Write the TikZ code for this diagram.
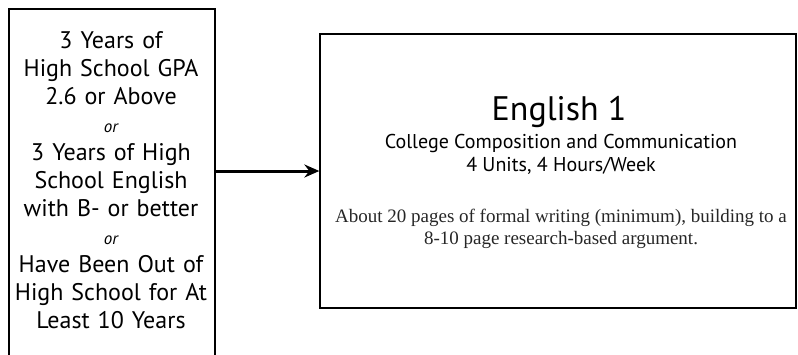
\documentclass[tikz,border=0pt]{standalone}
\usepackage{fontspec}
\setmainfont{Liberation Serif}
\setsansfont{PT Sans}
\usetikzlibrary{arrows.meta}

\tikzset{
  box/.style={draw=black, line width=1.3pt, inner sep=0pt},
  reqtext/.style={font=\sffamily\fontsize{24}{28}\selectfont, align=center, text width=204pt},
  link/.style={line width=3pt, -{Stealth[length=15pt,width=13pt,inset=5pt]}}
}
\newcommand{\ortext}{{\fontsize{17}{28}\selectfont\itshape or}}

\begin{document}
\begin{tikzpicture}[x=1pt,y=-1pt]
\clip (0,0) rectangle (798,354);

% requirements box
\node[box, minimum width=206pt, minimum height=348pt] (req) at (112,183) {};
\node[reqtext] (reqlist) at (111,180)
  {3 Years of\\ High School GPA\\ 2.6 or Above\\ \ortext\\ 3 Years of High\\ School English\\ with B- or better\\ \ortext\\ Have Been Out of\\ High School for At\\ Least 10 Years};

% course box
\node[box, minimum width=476pt, minimum height=274pt] (course) at (558,171) {};
\node[anchor=base, font=\sffamily\fontsize{34}{40}\selectfont] (title) at (559,120) {English 1};
\node[anchor=base, font=\sffamily\fontsize{20}{23}\selectfont, align=center] (sub) at (561,171)
  {College Composition and Communication\\ 4 Units, 4 Hours/Week};
\node[anchor=base, font=\rmfamily\fontsize{19}{22}\selectfont, align=center, text=black!85] (desc) at (561,244)
  {About 20 pages of formal writing (minimum), building to a\\ 8-10 page research-based argument.};

\draw[link] (req.east |- course.west) -- (course.west);

\end{tikzpicture}
\end{document}
